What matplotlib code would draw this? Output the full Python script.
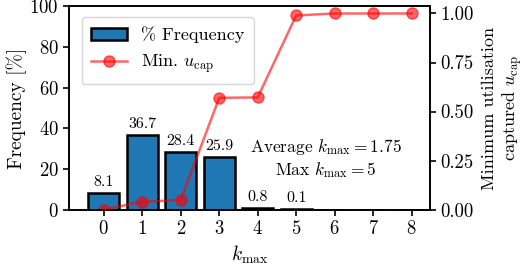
import matplotlib
matplotlib.use("Agg")
import matplotlib.pyplot as plt
import numpy as np

plt.rcParams['font.family'] = 'serif'
plt.rcParams['font.serif'] = ['cmr10']
plt.rcParams['mathtext.fontset'] = 'cm'
plt.rcParams['axes.formatter.use_mathtext'] = True
plt.rcParams['axes.unicode_minus'] = False

k_values = [0, 1, 2, 3, 4, 5, 6, 7, 8]
frequency = [8.1, 36.7, 28.4, 25.9, 0.8, 0.1, 0.0, 0.0, 0.0]
min_ucap = [0.0, 0.04, 0.048, 0.57, 0.572, 0.99, 1.0, 1.0, 1.0]
avg_k = 1.75
max_k = 5

fig = plt.figure(figsize=(5.24, 2.68), dpi=100)
ax = fig.add_axes([0.132, 0.218, 0.688, 0.758])
ax2 = ax.twinx()

bars = ax.bar(k_values, frequency, width=0.8, color='#1f77b4', edgecolor='black',
              linewidth=1.8, label='% Frequency', zorder=2)
for k, f in zip(k_values, frequency):
    if f > 0:
        ax.text(k, f + 2, f"{f:.1f}", ha='center', va='bottom', fontsize=11.5)

line, = ax2.plot(k_values, min_ucap, color='red', alpha=0.6, marker='o', markersize=8,
                 linewidth=1.8, label=r'Min. $u_{\mathrm{cap}}$')

ax.set_xlim(-0.9, 8.47)
ax.set_ylim(0, 100)
ax2.set_ylim(0, 1.036)
ax.set_xticks(k_values)
ax.set_yticks([0, 20, 40, 60, 80, 100])
ax2.set_yticks([0, 0.25, 0.5, 0.75, 1.0])
ax2.set_yticklabels(['0.00', '0.25', '0.50', '0.75', '1.00'])

for a in (ax, ax2):
    a.tick_params(labelsize=13.5, width=1.2, length=4)
    for s in a.spines.values():
        s.set_linewidth(1.2)

ax.set_xlabel(r'$k_{\max}$', fontsize=14)
ax.set_ylabel('Frequency [%]', fontsize=14, labelpad=2)
ax2.set_ylabel('Minimum utilisation\ncaptured $u_{\\mathrm{cap}}$', fontsize=13, labelpad=6)

ax.text(5.78, 25.3, 'Average $k_{\\max} = %.2f$\nMax $k_{\\max} = %d$' % (avg_k, max_k),
        ha='center', va='center', fontsize=12.5, linespacing=1.2)

leg = ax2.legend([bars, line], ['% Frequency', r'Min. $u_{\mathrm{cap}}$'], loc='upper left',
                 fontsize=13, framealpha=0.8, fancybox=True, borderpad=0.5,
                 bbox_to_anchor=(0.01, 0.99))

fig.savefig('out.png', dpi=100)
